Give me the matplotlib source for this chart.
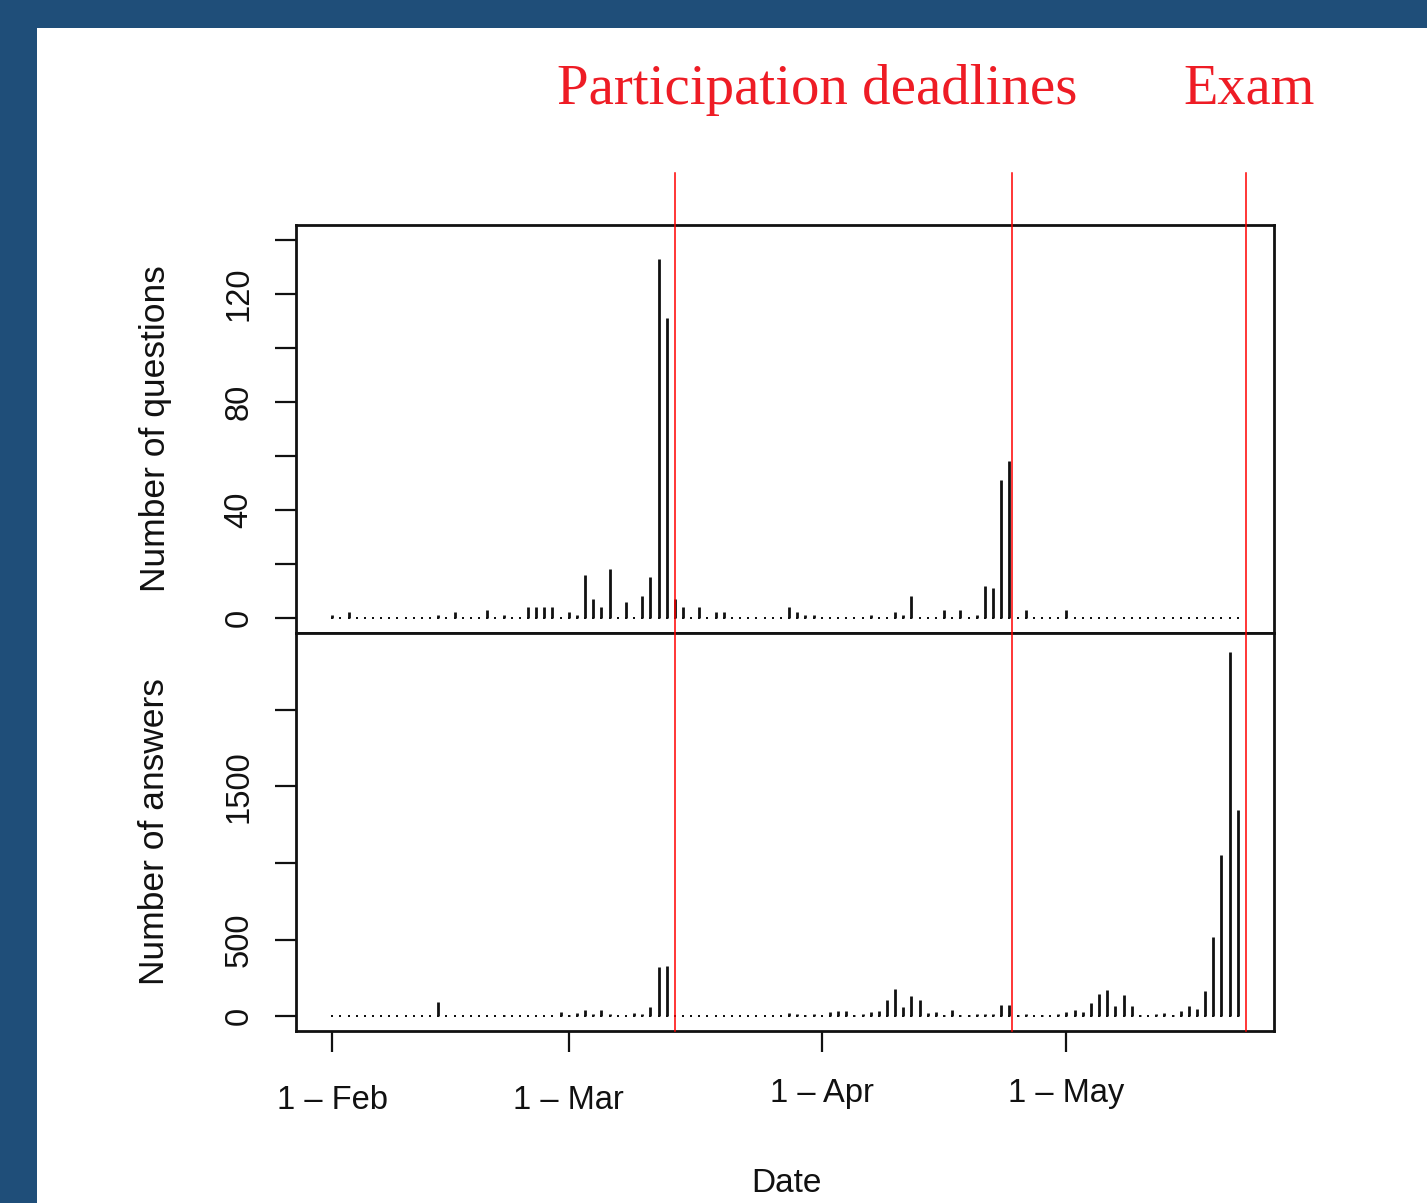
import numpy as np
import matplotlib
matplotlib.use("Agg")
import matplotlib.pyplot as plt
import matplotlib.transforms as mtransforms
from matplotlib.patches import Rectangle

# ---------------- data ----------------
start_date = np.datetime64("2016-02-01")
questions = [1, 0, 2, 0, 0, 0, 0, 0, 0, 0, 0, 0, 0, 1, 0, 2, 0, 0, 0, 3,
             0, 1, 0, 0, 4, 4, 4, 4, 0, 2, 1, 16, 7, 4, 18, 0, 6, 0, 8, 15,
             133, 111, 7, 4, 0, 4, 0, 2, 2, 0, 0, 0, 0, 0, 0, 0, 4, 2, 1, 1,
             0, 0, 0, 0, 0, 0, 1, 0, 0, 2, 1, 8, 0, 0, 0, 3, 0, 3, 0, 1,
             12, 11, 51, 58, 0, 3, 0, 0, 0, 0, 3, 0, 0, 0, 0, 0, 0, 0, 0, 0,
             0, 0, 0, 0, 0, 0, 0, 0, 0, 0, 0, 0]
answers = [0, 0, 0, 0, 0, 0, 0, 0, 0, 0, 0, 0, 0, 90, 0, 0, 0, 0, 0, 0,
           0, 8, 0, 5, 5, 5, 5, 5, 27, 6, 20, 40, 12, 42, 12, 3, 3, 20, 14, 58,
           322, 326, 0, 0, 0, 0, 0, 0, 0, 0, 0, 0, 0, 0, 0, 0, 22, 15, 8, 15,
           0, 30, 35, 35, 10, 15, 30, 35, 105, 180, 60, 130, 105, 24, 28, 7, 39, 11, 7, 17,
           17, 17, 76, 76, 7, 17, 0, 7, 0, 17, 28, 39, 28, 86, 144, 174, 68, 137, 68, 7,
           0, 17, 24, 7, 35, 65, 50, 163, 519, 1053, 2375, 1347]
dates = start_date + np.arange(len(questions)).astype("timedelta64[D]")

deadlines = np.array(["2016-03-14T00:00", "2016-04-24T08:24"], dtype="datetime64[m]")
exam_date = np.datetime64("2016-05-23T00:00")

date_ticks = np.array(["2016-02-01", "2016-03-01", "2016-04-01", "2016-05-01"], dtype="datetime64[D]")
date_tick_labels = ["1 \u2013 Feb", "1 \u2013 Mar", "1 \u2013 Apr", "1 \u2013 May"]

q_ticks = [0, 20, 40, 60, 80, 100, 120, 140]
q_tick_labels = ["0", "", "40", "", "80", "", "120", ""]
a_ticks = [0, 500, 1000, 1500, 2000]
a_tick_labels = ["0", "500", "", "1500", ""]

# ---------------- layout ----------------
W, H = 1427, 1203
def fx(px):
    return px / W
def fy(py):
    return 1 - py / H

plt.rcParams["font.family"] = ["Liberation Sans", "DejaVu Sans"]
fig = plt.figure(figsize=(W / 100, H / 100), dpi=100)
fig.patch.set_facecolor("#1F4E79")
fig.add_artist(Rectangle((fx(37), 0), 1 - fx(37), fy(28), transform=fig.transFigure,
                         facecolor="white", edgecolor="none", zorder=0))

ax1 = fig.add_axes([fx(296), fy(633), fx(1274) - fx(296), (633 - 225) / H])
ax2 = fig.add_axes([fx(296), fy(1031), fx(1274) - fx(296), (1031 - 633) / H])

x0 = start_date.astype("datetime64[m]") - np.timedelta64(int(4.44 * 1440), "m")
x1 = start_date.astype("datetime64[m]") + np.timedelta64(int(115.44 * 1440), "m")

for ax, vals, ylim, ticks, labels in [
        (ax1, questions, (-5.6, 145.6), q_ticks, q_tick_labels),
        (ax2, answers, (-96, 2500), a_ticks, a_tick_labels)]:
    lc = ax.vlines(dates, 0, vals, colors="#111111", linewidth=2.0, zorder=3)
    lc.set_capstyle("butt")
    ax.plot(dates, np.zeros(len(vals)), "s", color="#111111", ms=2.1, mew=0, zorder=3)
    ax.set_xlim(x0, x1)
    ax.set_ylim(*ylim)
    ax.set_yticks(ticks)
    ax.set_yticklabels(labels, rotation=90, va="center")
    ax.tick_params(axis="y", direction="out", length=15, width=1.6, pad=15,
                   labelsize=23.5, colors="#111111")
    for s in ax.spines.values():
        s.set_linewidth(2.0)
        s.set_color("#111111")

ax1.set_xticks([])
ax2.set_xticks(date_ticks)
ax2.set_xticklabels(date_tick_labels)
ax2.tick_params(axis="x", direction="out", length=15, width=1.6, pad=24,
                labelsize=23.5, colors="#111111")
for lab in ax2.get_xticklabels()[2:]:
    lab.set_transform(lab.get_transform() +
                      mtransforms.ScaledTranslation(0, 7 / 100, fig.dpi_scale_trans))

# red deadline lines spanning both panels
ymax = (1031 - 173) / (1031 - 633)
for d in list(deadlines) + [exam_date]:
    ax2.axvline(d, ymin=0, ymax=ymax, color="red", lw=1.1, clip_on=False, zorder=6)

# labels
fig.text(fx(155), fy(429), "Number of questions", rotation=90, ha="center",
         va="center", fontsize=25.5, color="#111111")
fig.text(fx(155), fy(832), "Number of answers", rotation=90, ha="center",
         va="center", fontsize=25.5, color="#111111")
fig.text(fx(786), fy(1183), "Date", ha="center", va="center", fontsize=24,
         color="#111111")

serif = ["Liberation Serif", "DejaVu Serif"]
fig.text(fx(557), fy(104), "Participation deadlines", family=serif, color="#EE1C25",
         fontsize=41, ha="left", va="baseline")
fig.text(fx(1183), fy(104), "Exam", family=serif, color="#EE1C25",
         fontsize=40.5, ha="left", va="baseline")

fig.savefig("out.png", dpi=100, facecolor=fig.get_facecolor())
